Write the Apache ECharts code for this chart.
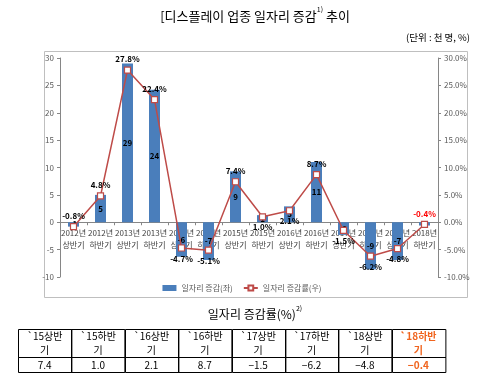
<!DOCTYPE html>
<html>
<head>
<meta charset="utf-8">
<script src="https://cdn.jsdelivr.net/npm/echarts@6/dist/echarts.min.js"></script>
<style>
html,body{margin:0;padding:0;background:#fff;}
#c{width:484px;height:381px;}
</style>
</head>
<body>
<div id="c"></div>
<script>
// ---- data ----
var categories = ["2012년 상반기","2012년 하반기","2013년 상반기","2013년 하반기","2014년 상반기","2014년 하반기","2015년 상반기","2015년 하반기","2016년 상반기","2016년 하반기","2017년 상반기","2017년 하반기","2018년 상반기","2018년 하반기"];
var jobChange = [-0.8, 5.0, 29.0, 24.2, -6.3, -6.9, 9.3, 1.3, 2.9, 11.0, -2.3, -8.6, -6.9, -0.6];
var jobRate = [-0.8, 4.8, 27.8, 22.4, -4.7, -5.1, 7.4, 1.0, 2.1, 8.7, -1.5, -6.2, -4.8, -0.4];
var leftTicks = {min: -10, max: 30, interval: 5};
var rightTicks = {min: -10, max: 30, interval: 5};
var tableHeaders = ["`15상반기","`15하반기","`16상반기","`16하반기","`17상반기","`17하반기","`18상반기","`18하반기"];
var tableValues = ["7.4","1.0","2.1","8.7","−1.5","−6.2","−4.8","−0.4"];

// ---- styles ----
var rateLabelPos = ["top","top","top","top","bottom","bottom","top","bottom","bottom","top","bottom","bottom","bottom","top"];
var FONT = '"Noto Sans CJK KR", "Noto Sans", sans-serif';
var BAR_COLOR = '#4a7ebb';
var LINE_COLOR = '#be4b48';
var ORANGE = '#f0641e';

var GRID = {left: 60, right: 46, top: 58, bottom: 104};
var gridH = 381 - GRID.top - GRID.bottom;
var zeroFromBottom = gridH * (0 - leftTicks.min) / (leftTicks.max - leftTicks.min);

var chart = echarts.init(document.getElementById('c'), null, {renderer: 'canvas'});

var lineData = jobRate.map(function (v, i) {
  var last = i === jobRate.length - 1;
  return {
    value: v,
    label: {
      position: rateLabelPos[i],
      color: last ? '#ff0000' : '#000',
      distance: 3
    }
  };
});

var tbl = {x: 18, y: 329, w: 427, h1: 28, h2: 15};
var colW = tbl.w / tableHeaders.length;
var graphics = [];
graphics.push({type: 'rect', shape: {x: 44.5, y: 51.5, width: 423, height: 246}, style: {fill: 'none', stroke: '#bfbfbf', lineWidth: 1}, z: -1, silent: true});
graphics.push({
  type: 'text', x: 255, y: 16,
  style: {
    text: '{t|[디스플레이 업종 일자리 증감}{s|1)}{t| 추이}',
    align: 'center', verticalAlign: 'middle',
    rich: {
      t: {fontSize: 13, fontFamily: FONT, fill: '#000'},
      s: {fontSize: 7, fontFamily: FONT, fill: '#000', verticalAlign: 'top', lineHeight: 20}
    }
  }
});
graphics.push({type: 'text', x: 470, y: 37, style: {text: '(단위 : 천 명, %)', align: 'right', verticalAlign: 'middle', fontSize: 9.5, fontFamily: FONT, fill: '#000'}});
graphics.push({
  type: 'text', x: 255, y: 314,
  style: {
    text: '{t|일자리 증감률(%)}{s|2)}',
    align: 'center', verticalAlign: 'middle',
    rich: {
      t: {fontSize: 12, fontFamily: FONT, fill: '#000'},
      s: {fontSize: 7, fontFamily: FONT, fill: '#000', verticalAlign: 'top', lineHeight: 18}
    }
  }
});
for (var i = 0; i < tableHeaders.length; i++) {
  var x0 = tbl.x + i * colW;
  var last = i === tableHeaders.length - 1;
  var col = last ? ORANGE : '#000';
  var h = tableHeaders[i];
  graphics.push({type: 'rect', shape: {x: Math.round(x0) + 0.5, y: tbl.y + 0.5, width: colW, height: tbl.h1}, style: {fill: 'none', stroke: '#000', lineWidth: 1}, silent: true});
  graphics.push({type: 'rect', shape: {x: Math.round(x0) + 0.5, y: tbl.y + tbl.h1 + 0.5, width: colW, height: tbl.h2}, style: {fill: 'none', stroke: '#000', lineWidth: 1}, silent: true});
  graphics.push({type: 'text', x: x0 + colW / 2, y: tbl.y + 7, style: {text: h.slice(0, -1), align: 'center', verticalAlign: 'middle', fontSize: 10, fontWeight: last ? 'bold' : 'normal', fontFamily: FONT, fill: col}});
  graphics.push({type: 'text', x: x0 + colW / 2, y: tbl.y + 21, style: {text: h.slice(-1), align: 'center', verticalAlign: 'middle', fontSize: 10, fontWeight: last ? 'bold' : 'normal', fontFamily: FONT, fill: col}});
  graphics.push({type: 'text', x: x0 + colW / 2, y: tbl.y + tbl.h1 + 8, style: {text: tableValues[i], align: 'center', verticalAlign: 'middle', fontSize: 10, fontWeight: last ? 'bold' : 'normal', fontFamily: FONT, fill: col}});
}

var option = {
  backgroundColor: '#fff',
  animation: false,
  textStyle: {fontFamily: FONT},
  grid: {left: GRID.left, right: GRID.right, top: GRID.top, bottom: GRID.bottom, containLabel: false},
  legend: {
    bottom: 84, left: 'center',
    itemGap: 10, itemWidth: 14, itemHeight: 6,
    textStyle: {fontSize: 8, color: '#595959', fontFamily: FONT},
    data: [
      {name: '일자리 증감(좌)', icon: 'rect', itemStyle: {color: BAR_COLOR}},
      {name: '일자리 증감률(우)'}
    ]
  },
  xAxis: {
    type: 'category',
    data: categories,
    position: 'bottom',
    offset: -zeroFromBottom,
    z: 1,
    axisLine: {onZero: false, lineStyle: {color: '#868686', width: 1}},
    axisTick: {show: true, length: 3, lineStyle: {color: '#868686'}},
    axisLabel: {
      interval: 0, fontSize: 8, color: '#404040', lineHeight: 12, margin: 5,
      formatter: function (v) { return v.replace(' ', '\n'); }
    },
    splitLine: {show: false}
  },
  yAxis: [
    {
      type: 'value', min: leftTicks.min, max: leftTicks.max, interval: leftTicks.interval,
      axisLine: {show: true, lineStyle: {color: '#868686'}},
      axisTick: {show: true, length: 3, lineStyle: {color: '#868686'}},
      axisLabel: {fontSize: 8, color: '#595959', margin: 6},
      splitLine: {show: false}
    },
    {
      type: 'value', min: rightTicks.min, max: rightTicks.max, interval: rightTicks.interval,
      position: 'right',
      axisLine: {show: true, lineStyle: {color: '#868686'}},
      axisTick: {show: true, length: 3, lineStyle: {color: '#868686'}},
      axisLabel: {fontSize: 8, color: '#595959', margin: 6, formatter: function (v) { return v.toFixed(1) + '%'; }},
      splitLine: {show: false}
    }
  ],
  series: [
    {
      name: '일자리 증감(좌)',
      type: 'bar',
      yAxisIndex: 0,
      data: jobChange,
      barWidth: 11,
      itemStyle: {color: BAR_COLOR},
      label: {
        show: true, position: 'inside', fontSize: 8, fontWeight: 'bold', color: '#000',
        formatter: function (p) { return String(Math.round(p.value)); }
      },
      z: 2
    },
    {
      name: '일자리 증감률(우)',
      type: 'line',
      yAxisIndex: 1,
      data: lineData,
      symbol: 'rect',
      symbolSize: 6,
      lineStyle: {color: LINE_COLOR, width: 1.5},
      itemStyle: {color: '#fff', borderColor: LINE_COLOR, borderWidth: 1.2},
      label: {
        show: true, fontSize: 8, fontWeight: 'bold',
        formatter: function (p) { return p.value.toFixed(1) + '%'; }
      },
      z: 3
    }
  ],
  graphic: graphics
};
chart.setOption(option);
</script>
</body>
</html>
